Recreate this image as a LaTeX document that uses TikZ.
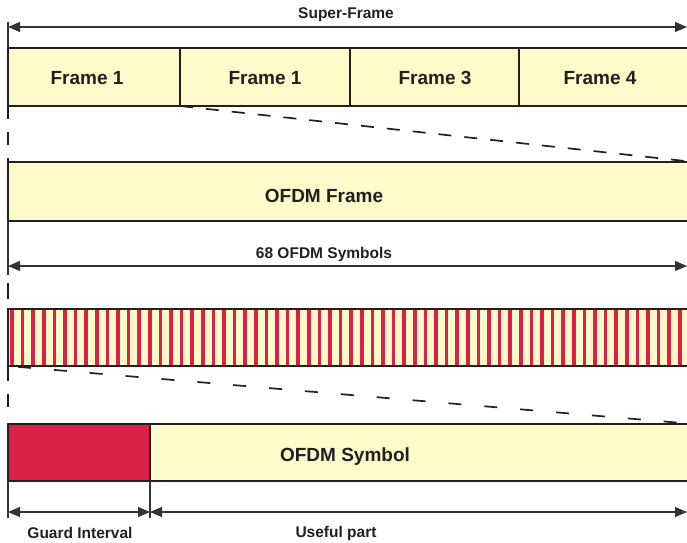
\documentclass[tikz,border=0pt]{standalone}
\usepackage{fontspec}
\setmainfont{Liberation Sans}
\usetikzlibrary{arrows.meta}
\definecolor{cream}{HTML}{FEFAC9}
\definecolor{crimson}{HTML}{DC2149}
\definecolor{ink}{HTML}{231F20}
\definecolor{arrowgray}{HTML}{333333}
\tikzset{
  box/.style={draw=ink, line width=2.8pt, fill=cream, anchor=north west, inner sep=0pt, outer sep=0pt},
  redbox/.style={box, fill=crimson},
  biglabel/.style={font=\fontsize{19}{22}\selectfont\bfseries, text=ink, inner sep=0pt},
  smalllabel/.style={font=\fontsize{15.5}{18}\selectfont\bfseries, text=ink, inner sep=0pt},
  dim/.style={draw=arrowgray, line width=1.2pt, {Triangle[length=12pt,width=10pt]}-{Triangle[length=12pt,width=10pt]}},
  ext/.style={draw=arrowgray, line width=1.2pt},
  guide/.style={draw=ink, line width=1.7pt, dash pattern=on 13pt off 13pt},
  stripe/.style={fill=crimson, draw=none}
}
\begin{document}
\begin{tikzpicture}[x=1pt,y=-1pt]
\useasboundingbox (0,0) rectangle (687,542);
\clip (0,0) rectangle (687,542);

% Super-frame row
\node[box, minimum width=172pt, minimum height=58pt] (f1) at (8,48) {};
\node[box, minimum width=170pt, minimum height=58pt] (f2) at (180,48) {};
\node[box, minimum width=169pt, minimum height=58pt] (f3) at (350,48) {};
\node[box, minimum width=175pt, minimum height=58pt] (f4) at (519,48) {};
\node[biglabel] (l1) at (87,78) {Frame 1};
\node[biglabel] (l2) at (265,78) {Frame 1};
\node[biglabel] (l3) at (435,78) {Frame 3};
\node[biglabel] (l4) at (600,78) {Frame 4};

\coordinate (sfL) at (8,27);
\coordinate (sfR) at (687,27);
\coordinate (sfTop) at (8,22);
\draw[ext] (sfTop) -- (f1.north west);
\draw[dim] (sfL) -- (sfR);
\node[smalllabel] (sflabel) at (346,15) {Super-Frame};

% OFDM frame
\node[box, minimum width=686pt, minimum height=59pt] (of) at (8,162) {};
\node[biglabel] (oflabel) at (324,196) {OFDM Frame};
\draw[guide] (f1.south west) -- (of.north west);
\draw[guide] (f2.south west) -- (of.north east);

% 68 OFDM symbols dimension
\coordinate (symL) at (8,266);
\coordinate (symR) at (687,266);
\coordinate (extEnd) at (8,275);
\draw[ext] (of.south west) -- (extEnd);
\draw[dim] (symL) -- (symR);
\node[smalllabel] (symlabel) at (324,254) {68 OFDM Symbols};

% Striped row
\node[box, minimum width=686pt, minimum height=57pt] (st) at (8,309) {};
\foreach \k in {0,...,65} {
  \fill[stripe] ({10.2+10.6*\k},310.3) rectangle ({13.8+10.6*\k},364.7);
}
\draw[ink, line width=2.8pt] (st.north west) -- (st.north east);
\draw[ink, line width=2.8pt] (st.south west) -- (st.south east);
\draw[ink, line width=2.8pt] (st.north west) -- (st.south west);
\draw[guide, dash pattern=on 0pt off 8pt on 16pt off 40pt] (extEnd) -- (st.north west);

% OFDM symbol row
\node[redbox, minimum width=142pt, minimum height=57pt] (gi) at (8,424) {};
\node[box, minimum width=544pt, minimum height=57pt] (up) at (150,424) {};
\node[biglabel] (uplabel) at (345,457) {OFDM Symbol};
\draw[guide, dash pattern=on 15pt off 13pt on 13pt off 40pt] (st.south west) -- (gi.north west);
\draw[guide, dash pattern=on 0pt off 10pt on 13pt off 13pt] (st.south west) -- (up.north east);

% Bottom dimensions
\coordinate (b1) at (8,518);
\coordinate (b2) at (150,518);
\coordinate (g1) at (8,512);
\coordinate (g2) at (150,512);
\coordinate (g3) at (687,512);
\draw[ext] (gi.south west) -- (b1);
\draw[ext] (gi.south east) -- (b2);
\draw[dim] (g1) -- (g2);
\draw[dim] (g2) -- (g3);
\node[smalllabel] (gilabel) at (80,533) {Guard Interval};
\node[smalllabel] (uplabel2) at (336,533) {Useful part};
\end{tikzpicture}
\end{document}
